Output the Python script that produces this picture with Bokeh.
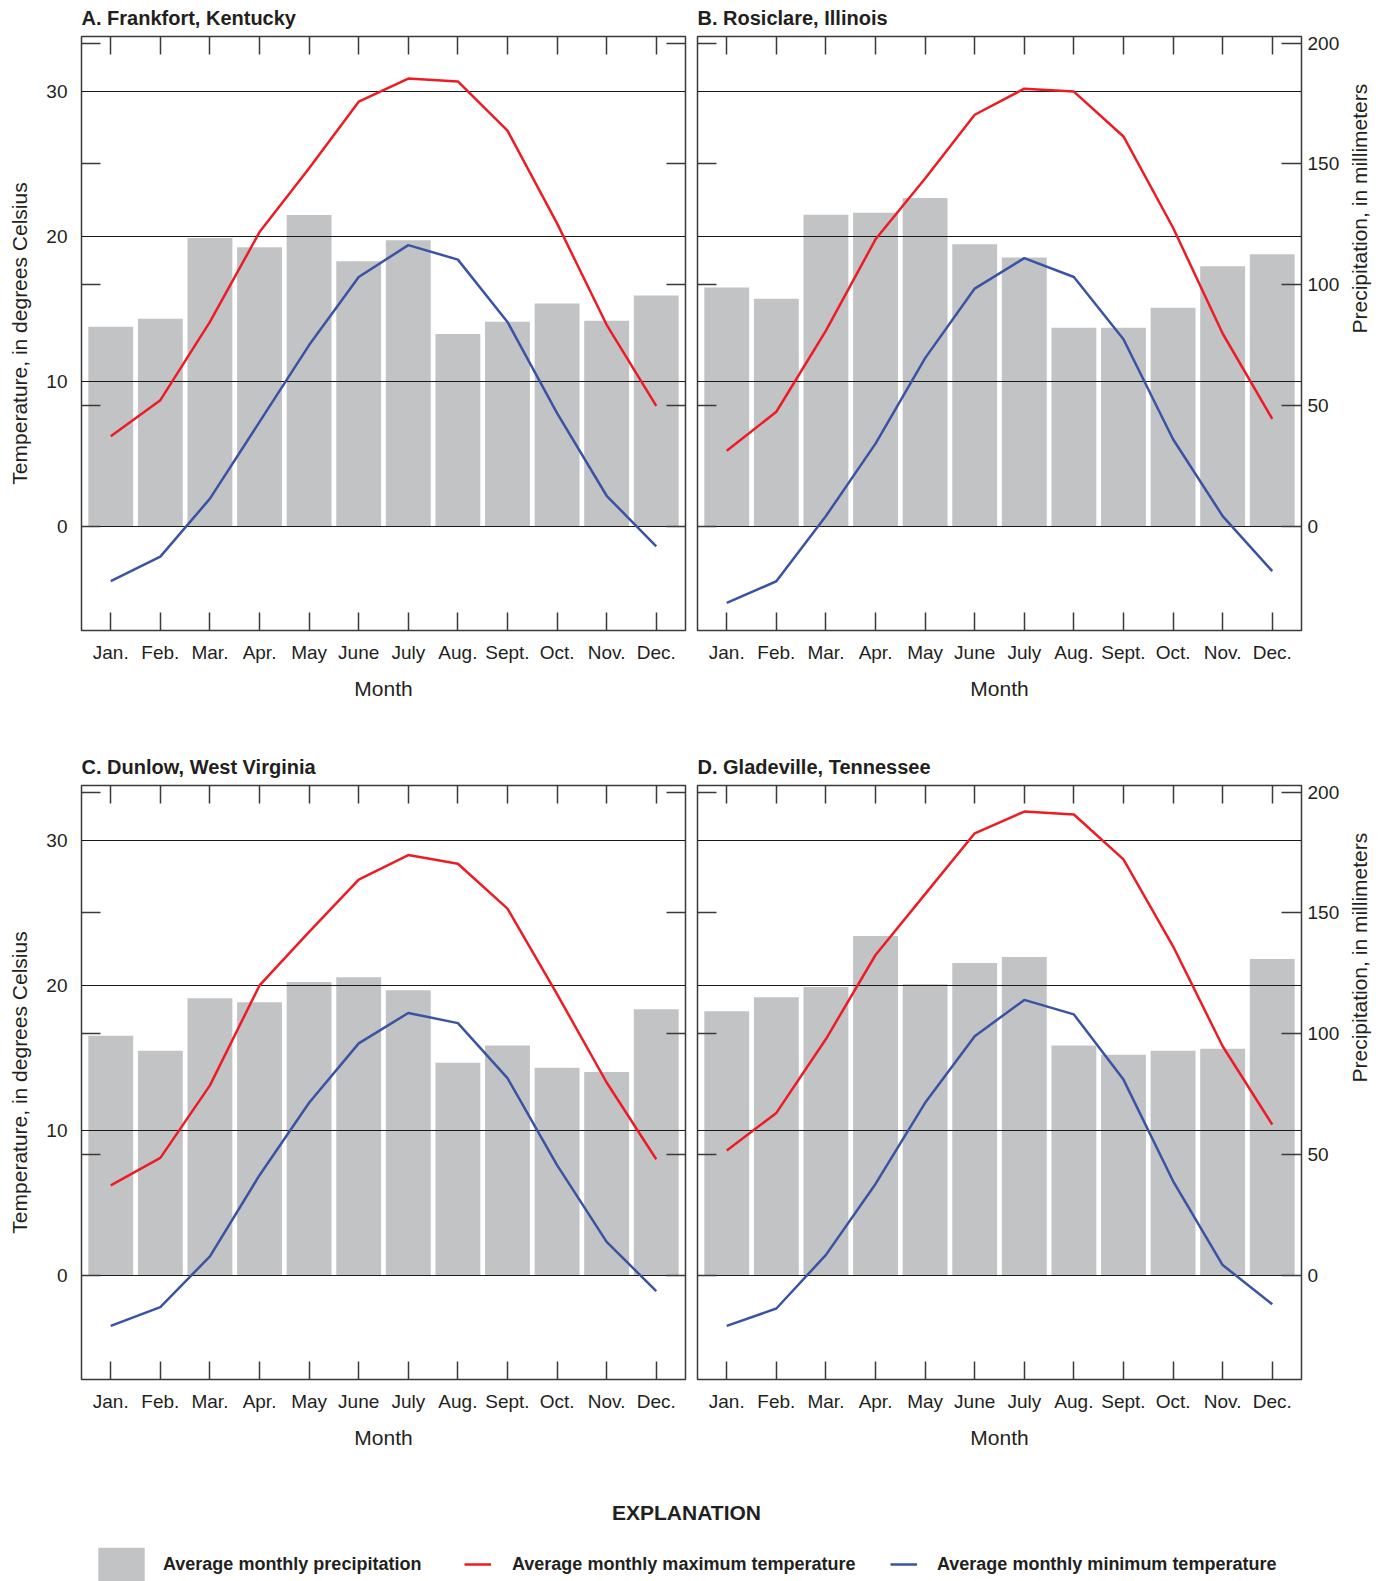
import math
from bokeh.plotting import figure
from bokeh.models import (Range1d, LinearAxis, FixedTicker, Grid, Label, Legend,
                          LegendItem, ColumnDataSource, CustomLabelingPolicy)
from bokeh.layouts import column, row
from bokeh.embed import file_html
from bokeh.resources import INLINE

# ---------------- data ----------------
months = ["Jan.", "Feb.", "Mar.", "Apr.", "May", "June", "July", "Aug.",
          "Sept.", "Oct.", "Nov.", "Dec."]

panel_titles = ["A. Frankfort, Kentucky", "B. Rosiclare, Illinois",
                "C. Dunlow, West Virginia", "D. Gladeville, Tennessee"]

precip_frankfort = [82.6, 85.9, 119.3, 115.5, 128.9, 109.7, 118.4, 79.6, 84.7, 92.2, 85.1, 95.5]
tmax_frankfort = [6.2, 8.7, 14.1, 20.3, 24.7, 29.3, 30.9, 30.7, 27.3, 20.9, 13.9, 8.3]
tmin_frankfort = [-3.8, -2.1, 1.9, 7.2, 12.5, 17.2, 19.4, 18.4, 14.1, 7.8, 2.1, -1.4]

precip_rosiclare = [98.8, 94.2, 129.0, 129.8, 135.9, 116.8, 111.3, 82.2, 82.2, 90.5, 107.6, 112.6]
tmax_rosiclare = [5.2, 7.9, 13.5, 19.8, 24.0, 28.4, 30.2, 30.0, 26.9, 20.6, 13.3, 7.4]
tmin_rosiclare = [-5.3, -3.8, 0.7, 5.7, 11.6, 16.4, 18.5, 17.2, 12.9, 6.0, 0.7, -3.1]

precip_dunlow = [99.2, 93.0, 114.7, 113.0, 121.4, 123.4, 118.0, 88.0, 95.1, 85.9, 84.2, 110.1]
tmax_dunlow = [6.2, 8.1, 13.1, 20.0, 23.7, 27.3, 29.0, 28.4, 25.3, 19.4, 13.3, 8.0]
tmin_dunlow = [-3.5, -2.2, 1.3, 6.9, 11.9, 16.0, 18.1, 17.4, 13.6, 7.6, 2.3, -1.1]

precip_gladeville = [109.3, 115.1, 119.3, 140.5, 120.5, 129.3, 131.8, 95.1, 91.3, 93.0, 93.8, 130.9]
tmax_gladeville = [8.6, 11.2, 16.3, 22.1, 26.3, 30.5, 32.0, 31.8, 28.7, 22.7, 15.8, 10.4]
tmin_gladeville = [-3.5, -2.3, 1.4, 6.3, 11.9, 16.5, 19.0, 18.0, 13.5, 6.5, 0.7, -2.0]

temp_ticks = [0, 10, 20, 30]
precip_ticks = [0, 50, 100, 150, 200]

legend_labels = ["Average monthly precipitation",
                 "Average monthly maximum temperature",
                 "Average monthly minimum temperature"]

# ---------------- style ----------------
FONT = "Liberation Sans"
TXT = "#231f20"
AX = "#3a3a3a"
GRID = "#1a1a1a"
BAR = "#c2c3c5"
RED = "#ed1c24"
BLUE = "#3a53a4"

X_LO, X_HI = -0.59, 11.59
T_LO, T_HI = -7.2, 33.8
P_PER_DEG = 6.0

panels = [
    (precip_frankfort, tmax_frankfort, tmin_frankfort),
    (precip_rosiclare, tmax_rosiclare, tmin_rosiclare),
    (precip_dunlow, tmax_dunlow, tmin_dunlow),
    (precip_gladeville, tmax_gladeville, tmin_gladeville),
]

NO_LABELS = "for (const i of indices) { indices.unset(i) } return indices"


def tick_axis(range_name=None, ticks=None, tick_len=19):
    args = dict(ticker=FixedTicker(ticks=ticks), major_tick_in=tick_len, major_tick_out=0,
                minor_tick_in=0, minor_tick_out=0, major_label_text_font_size="1px",
                major_label_policy=CustomLabelingPolicy(code=NO_LABELS),
                major_label_standoff=0, axis_line_color=None,
                major_tick_line_color=AX, major_tick_line_width=1.5)
    if range_name:
        args["y_range_name"] = range_name
    return LinearAxis(**args)


def make_panel(i):
    precip, tmax, tmin = panels[i]
    is_left = (i % 2 == 0)
    top_row = (i < 2)
    H = 749 if top_row else 741
    b_top = 36
    b_left = 81 if is_left else 6
    b_right = 6 if is_left else 86
    W = b_left + 604 + b_right
    p = figure(width=W, height=H, output_backend="svg", toolbar_location=None,
               x_range=Range1d(X_LO, X_HI), y_range=Range1d(T_LO, T_HI),
               x_axis_location=None, y_axis_location=None,
               min_border_left=b_left, min_border_right=b_right,
               min_border_top=b_top, min_border_bottom=H - b_top - 594)
    p.extra_y_ranges = {"precip": Range1d(T_LO * P_PER_DEG, T_HI * P_PER_DEG)}
    p.outline_line_color = AX
    p.outline_line_width = 1.5
    p.xgrid.visible = False
    p.ygrid.visible = False
    p.background_fill_color = "white"
    p.border_fill_color = "white"

    p.title.text = panel_titles[i]
    p.title.align = "left"
    p.title.offset = 0
    p.title.text_font = FONT
    p.title.text_font_size = "20px"
    p.title.text_font_style = "bold"
    p.title.text_color = TXT
    p.title.standoff = 8

    grid = Grid(dimension=1, ticker=FixedTicker(ticks=temp_ticks),
                grid_line_color=GRID, grid_line_width=1.2, level="underlay")
    p.add_layout(grid)

    src = ColumnDataSource(dict(x=list(range(len(months))), precip=precip,
                                tmax=tmax, tmin=tmin))
    p.vbar(x="x", top="precip", bottom=0, width=0.905, source=src,
           y_range_name="precip", fill_color=BAR, line_color=None, level="image")
    p.line("x", "tmax", source=src, line_color=RED, line_width=2.5)
    p.line("x", "tmin", source=src, line_color=BLUE, line_width=2.5)

    month_overrides = {k: m for k, m in enumerate(months)}
    below = LinearAxis(ticker=FixedTicker(ticks=list(range(len(months)))),
                       major_label_overrides=month_overrides,
                       axis_label="Month", major_tick_in=18, major_tick_out=0,
                       minor_tick_in=0, minor_tick_out=0, axis_line_color=None,
                       major_tick_line_color=AX, major_tick_line_width=1.5,
                       major_label_standoff=11, axis_label_standoff=11,
                       major_label_text_font=FONT, major_label_text_font_size="19px",
                       major_label_text_color=TXT,
                       axis_label_text_font=FONT, axis_label_text_font_size="21px",
                       axis_label_text_font_style="normal", axis_label_text_color=TXT)
    p.add_layout(below, "below")
    p.add_layout(tick_axis(None, list(range(len(months))), 18), "above")

    p.add_layout(tick_axis("precip", precip_ticks, 19), "left")
    if is_left:
        temp_axis = LinearAxis(ticker=FixedTicker(ticks=temp_ticks), major_tick_in=0,
                               major_tick_out=0, minor_tick_in=0, minor_tick_out=0,
                               major_tick_line_color=None, axis_line_color=None,
                               major_label_standoff=9,
                               axis_label="Temperature, in degrees Celsius",
                               axis_label_standoff=12,
                               major_label_text_font=FONT, major_label_text_font_size="19px",
                               major_label_text_color=TXT,
                               axis_label_text_font=FONT, axis_label_text_font_size="21px",
                               axis_label_text_font_style="normal", axis_label_text_color=TXT)
        p.add_layout(temp_axis, "left")
        p.add_layout(tick_axis("precip", precip_ticks, 19), "right")
    else:
        pr = LinearAxis(y_range_name="precip", ticker=FixedTicker(ticks=precip_ticks),
                        major_tick_in=20, major_tick_out=0, minor_tick_in=0, minor_tick_out=0,
                        major_tick_line_color=AX, major_tick_line_width=1.5,
                        axis_line_color=None, major_label_standoff=6,
                        axis_label="Precipitation, in millimeters", axis_label_standoff=17,
                        major_label_text_font=FONT, major_label_text_font_size="19px",
                        major_label_text_color=TXT,
                        axis_label_text_font=FONT, axis_label_text_font_size="21px",
                        axis_label_text_font_style="normal", axis_label_text_color=TXT)
        if "axis_label_orientation" in pr.properties():
            pr.axis_label_orientation = math.pi / 2
        p.add_layout(pr, "right")
    return p


figs = [make_panel(i) for i in range(4)]

# ---------------- explanation ----------------
LW, LH = 1387, 91
lg = figure(width=LW, height=LH, output_backend="svg", toolbar_location=None,
            x_range=Range1d(0, LW), y_range=Range1d(0, LH),
            x_axis_location=None, y_axis_location=None,
            min_border_left=0, min_border_right=0, min_border_top=0, min_border_bottom=0)
lg.outline_line_color = None
lg.xgrid.visible = False
lg.ygrid.visible = False

# zero-size stand-in renderers that only carry the legend styles
r_bar = lg.vbar(x=[0], top=[0], bottom=[0], width=0, fill_color=BAR, line_color=None)
r_max = lg.line(x=[0, 0], y=[0, 0], line_color=RED, line_width=2.5)
r_min = lg.line(x=[0, 0], y=[0, 0], line_color=BLUE, line_width=2.5)

lg.add_layout(Label(x=686, y=69, text="EXPLANATION", text_font=FONT, text_font_size="21px",
                    text_font_style="bold", text_color=TXT, text_align="center",
                    text_baseline="middle"))

legend_specs = [
    (r_bar, legend_labels[0], (92, -4), 58, 42, 13),
    (r_max, legend_labels[1], (464, -4), 27, 42, 21),
    (r_min, legend_labels[2], (890, -4), 27, 42, 20),
]
for rend, lab, loc, gw, gh, so in legend_specs:
    leg = Legend(items=[LegendItem(label=lab, renderers=[rend])], location=loc,
                 orientation="horizontal", padding=0, margin=0, spacing=0,
                 glyph_width=gw, glyph_height=gh, label_standoff=so,
                 border_line_color=None, background_fill_alpha=0,
                 label_text_font=FONT, label_text_font_size="18px",
                 label_text_font_style="bold", label_text_color=TXT)
    lg.add_layout(leg)

layout = column(row(figs[0], figs[1]), row(figs[2], figs[3]), lg)
open("out.html", "w").write(file_html(layout, INLINE))
